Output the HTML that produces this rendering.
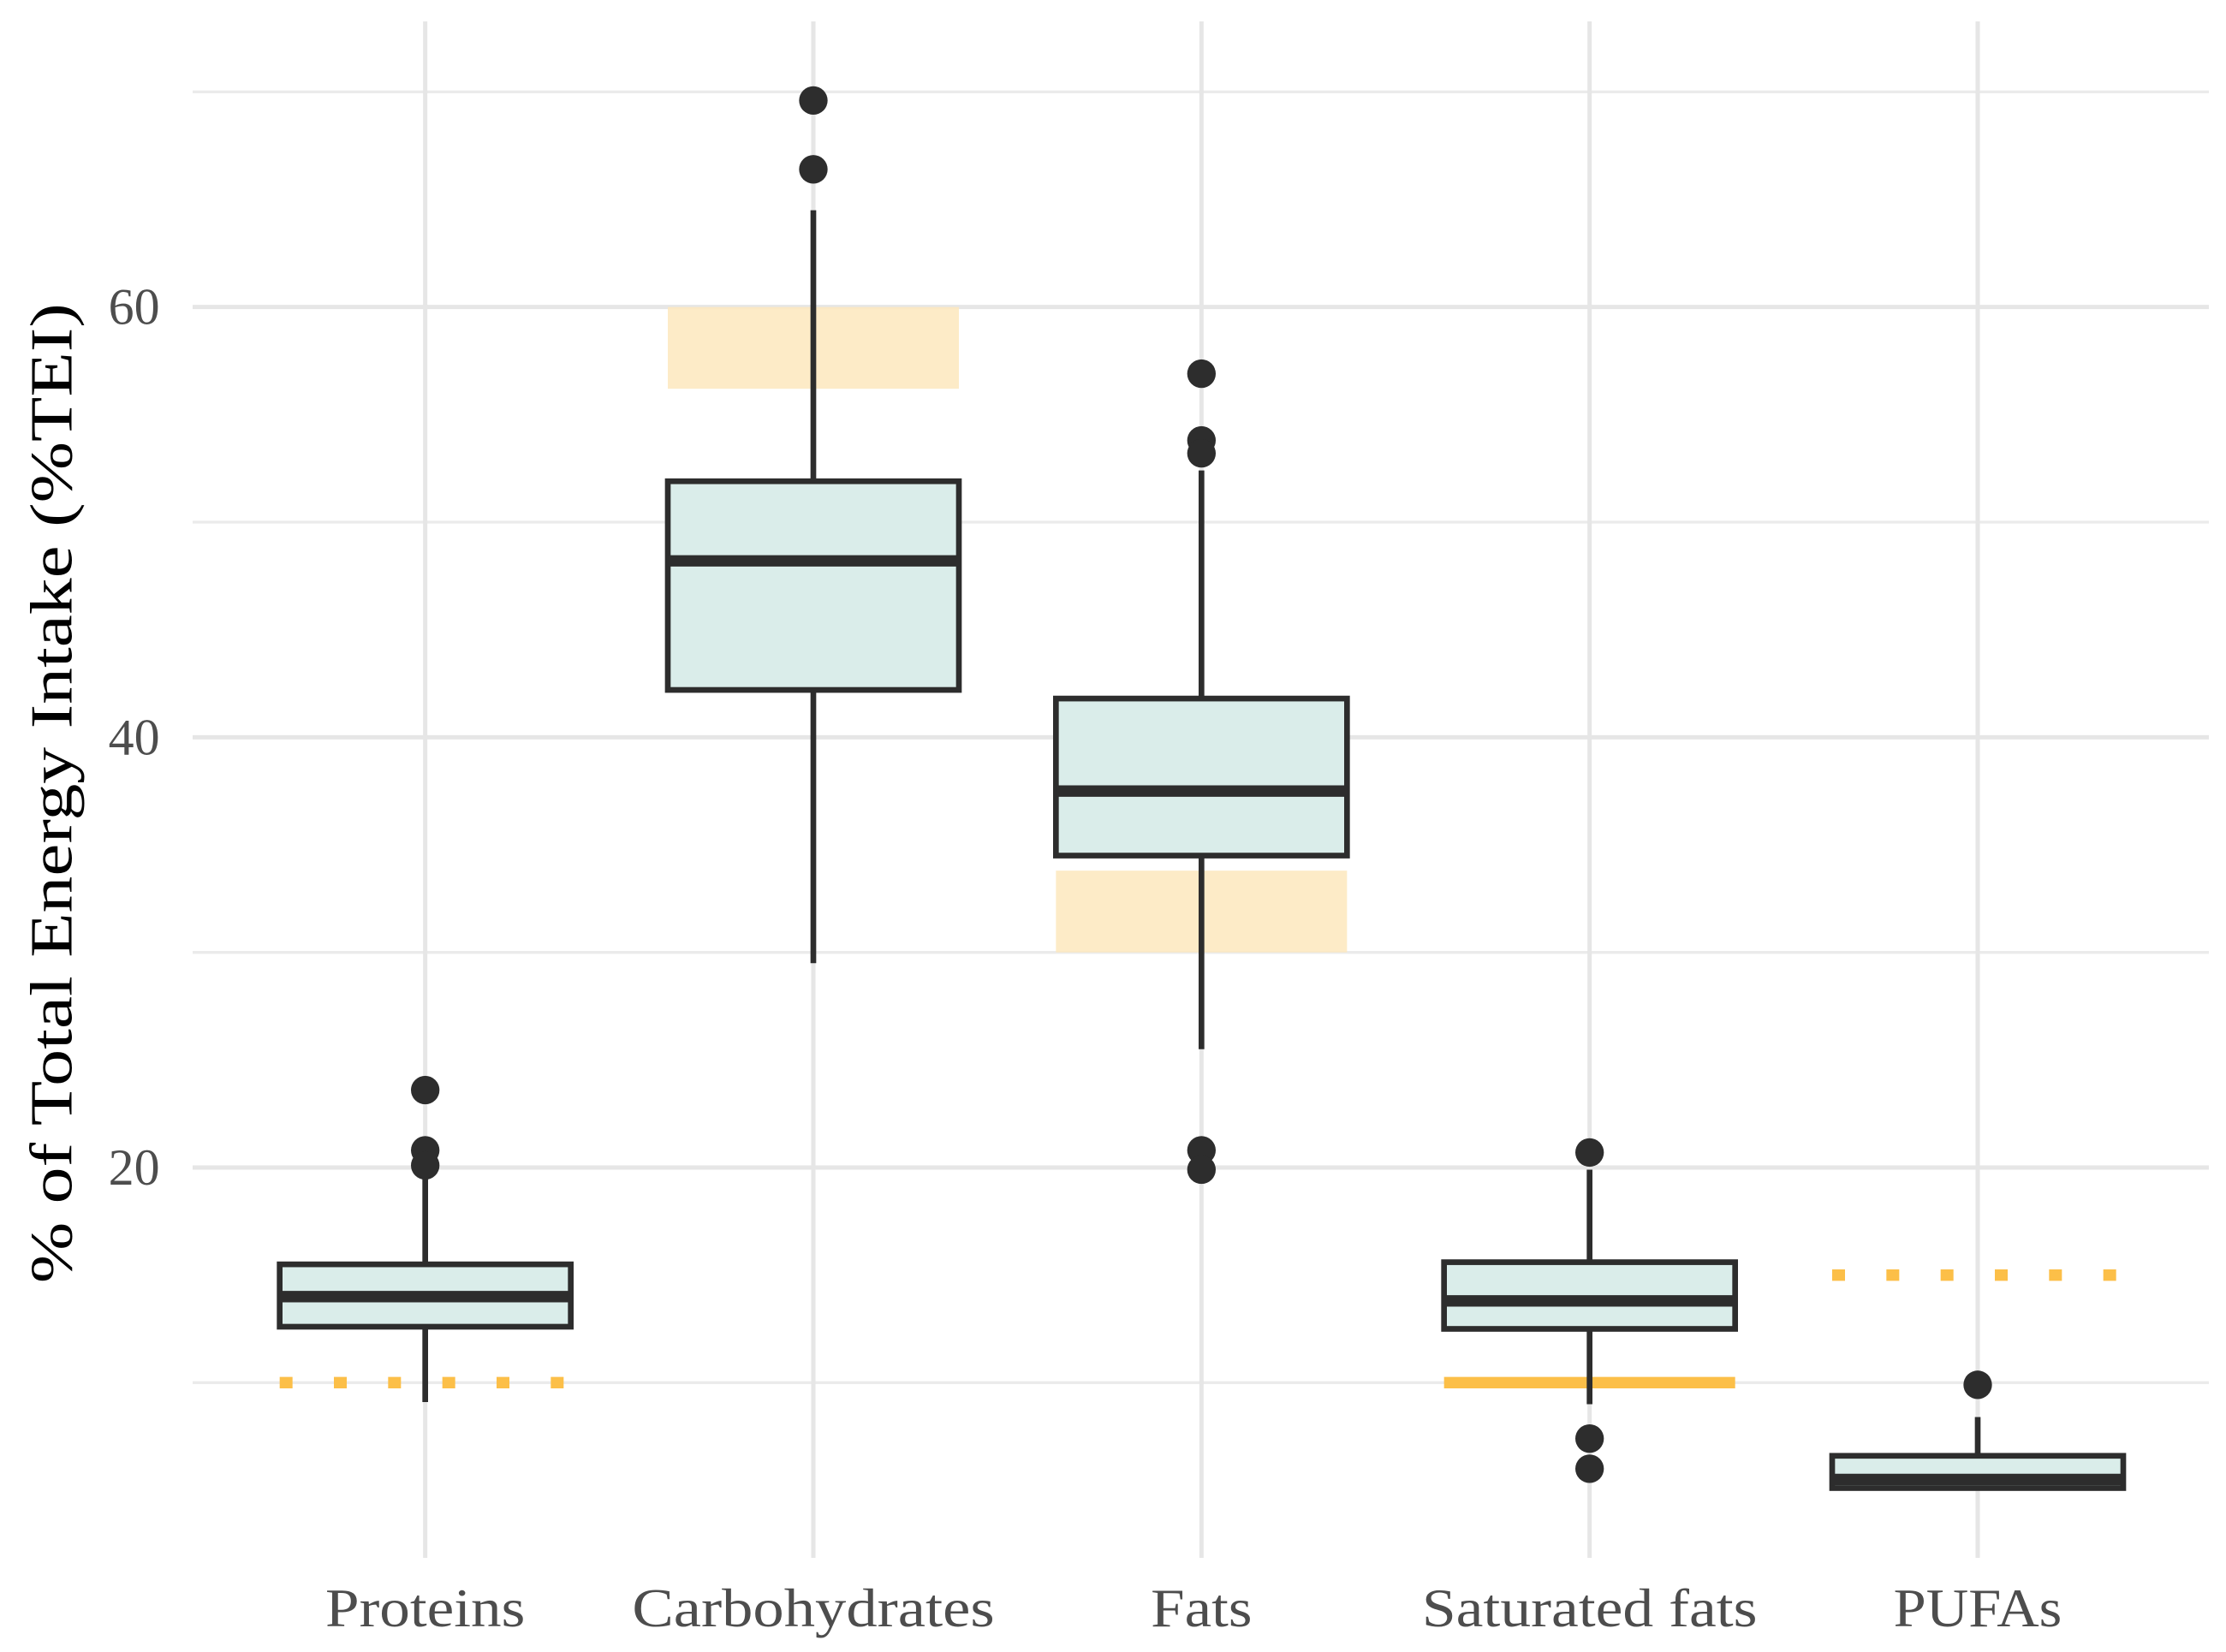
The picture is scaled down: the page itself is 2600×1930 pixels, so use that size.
<!DOCTYPE html>
<html><head><meta charset="utf-8"><style>
html,body{margin:0;padding:0;background:#fff}
svg{display:block}
text{font-family:"Liberation Serif",serif}
</style></head><body>
<svg id="chart" width="2600" height="1930" viewBox="0 0 1560 1158" preserveAspectRatio="none" xmlns="http://www.w3.org/2000/svg">
<g id="grid"></g><g id="refs"></g><g id="boxes"></g><g id="labels"></g>
<text transform="translate(50,556) rotate(-90)" text-anchor="middle" font-size="42" textLength="687" lengthAdjust="spacingAndGlyphs" fill="#000">% of Total Energy Intake (%TEI)</text>
</svg>
<script>
const categories=["Proteins","Carbohydrates","Fats","Saturated fats","PUFAs"];
const q1=[12.6,42.2,34.5,12.5,5.1];
const median=[14.0,48.2,37.5,13.8,5.5];
const q3=[15.5,51.9,41.8,15.6,6.6];
const whiskerLow=[9.1,29.5,25.5,9.0,5.0];
const whiskerHigh=[19.6,64.5,52.4,19.9,8.4];
const outliers=[[23.6,20.8,20.1],[69.6,66.4],[56.9,53.8,53.2,20.8,19.9],[20.7,7.4,6.0],[9.9]];
const refLow=[10,56.2,30,10,15];
const refHigh=[10,60,33.8,10,15];
const refType=["dotted","band","band","solid","dotted"];
const yTicks=[20,40,60];
const yMinor=[10,30,50,70];
const labelWidths=[140,254,71,235,118];

const ns="http://www.w3.org/2000/svg";
const y=v=>1120-v*15.08;
const x=i=>298+i*272;
const hw=102;
function mk(tag,attrs,parent){const e=document.createElementNS(ns,tag);for(const k in attrs)e.setAttribute(k,attrs[k]);parent.appendChild(e);return e;}
const G=document.getElementById('grid'),R=document.getElementById('refs'),B=document.getElementById('boxes'),L=document.getElementById('labels');
yMinor.forEach(v=>{const e=mk('line',{x1:135,x2:1548,y1:y(v),y2:y(v),stroke:'#ebebeb','stroke-width':2},G);

});
yTicks.forEach(v=>{const e=mk('line',{x1:135,x2:1548,y1:y(v),y2:y(v),stroke:'#e6e6e6','stroke-width':3},G);


const t=mk('text',{x:112,y:y(v)+12,'text-anchor':'end','font-size':36,textLength:36,lengthAdjust:'spacingAndGlyphs',fill:'#4d4d4d'},L);t.textContent=v;

});
categories.forEach((c,i)=>{const e=mk('line',{x1:x(i),x2:x(i),y1:15,y2:1092,stroke:'#e6e6e6','stroke-width':3},G);


const t=mk('text',{x:x(i),y:1140,'text-anchor':'middle','font-size':38,textLength:labelWidths[i],lengthAdjust:'spacingAndGlyphs',fill:'#4d4d4d'},L);t.textContent=c;


let r;
if(refType[i]==='band'){r=mk('rect',{x:x(i)-hw,width:2*hw,y:y(refHigh[i]),height:y(refLow[i])-y(refHigh[i]),fill:'#fde7bd',opacity:0.85},R);}
else{r=mk('line',{x1:x(i)-hw,x2:x(i)+hw,y1:y(refLow[i]),y2:y(refLow[i]),stroke:'#fcbf48','stroke-width':8},R);
if(refType[i]==='dotted')r.setAttribute('stroke-dasharray','9 29');}


const g=mk('g',{},B);


mk('line',{x1:x(i),x2:x(i),y1:y(whiskerHigh[i]),y2:y(q3[i]),stroke:'#2d2d2d','stroke-width':4},g);
mk('line',{x1:x(i),x2:x(i),y1:y(q1[i]),y2:y(whiskerLow[i]),stroke:'#2d2d2d','stroke-width':4},g);
mk('rect',{x:x(i)-hw,width:2*hw,y:y(q3[i]),height:y(q1[i])-y(q3[i]),fill:'#daedea',stroke:'#2d2d2d','stroke-width':4},g);
mk('line',{x1:x(i)-hw,x2:x(i)+hw,y1:y(median[i]),y2:y(median[i]),stroke:'#2d2d2d','stroke-width':8},g);
outliers[i].forEach(o=>{const p=mk('circle',{cx:x(i),cy:y(o),r:10,fill:'#2d2d2d'},g);

});
});
</script>
</body></html>
